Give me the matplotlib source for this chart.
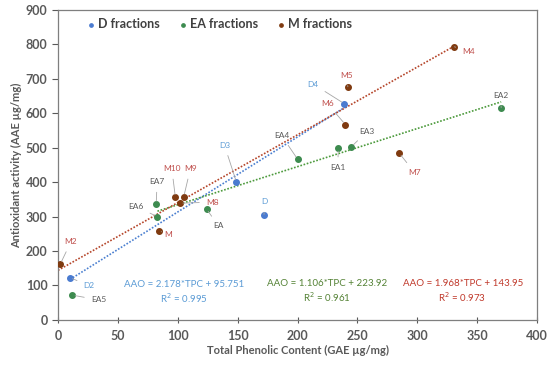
import matplotlib
matplotlib.use("Agg")
import matplotlib.pyplot as plt
import numpy as np

plt.rcParams['font.family'] = ['Lato', 'DejaVu Sans']

# data (TPC, AAO)
d_names = ["D2", "D", "D3", "D4"]
d_tpc = [10, 172, 149, 239]
d_aao = [123, 306, 400, 628]

ea_names = ["EA5", "EA6", "EA7", "EA", "EA4", "EA1", "EA3", "EA2"]
ea_tpc = [12, 83, 82, 124, 200, 234, 245, 370]
ea_aao = [72, 300, 337, 322, 467, 498, 503, 616]

m_names = ["M2", "M", "M8", "M10", "M9", "M6", "M5", "M7", "M4"]
m_tpc = [2, 84, 102, 98, 105, 240, 242, 285, 331]
m_aao = [163, 259, 339, 356, 358, 567, 677, 484, 793]

# label positions (data coords)
d_lab = [(26, 99), (172.5, 343), (139, 507), (213, 685)]
ea_lab = [(34, 58), (65, 329), (82.7, 401), (134, 273), (186.7, 535),
          (233.6, 443), (258, 547), (370, 652)]
m_lab = [(10.8, 227), (92, 249), (129, 342), (95, 439), (110.5, 439),
         (225, 628), (241, 711), (297.5, 429), (343, 780)]

# trend lines from the chart
fits = [(2.178, 95.751, 10, 240, '#4a7fd0'),
        (1.106, 223.92, 83, 370, '#4c9a3c'),
        (1.968, 143.95, 0, 331, '#b5452a')]

c_d, c_ea, c_m = '#4a7bd0', '#3d8b4f', '#7f3a10'
lab_d, lab_ea, lab_m = '#5b9bd5', '#595959', '#c0504d'
grey = '#595959'

fig = plt.figure(figsize=(5.5, 3.69), dpi=100)
ax = fig.add_axes([0.1055, 0.133, 0.871, 0.84])

for a, b, x0, x1, col in fits:
    xs = np.array([x0, x1])
    ax.plot(xs, a * xs + b, ls=(0, (1, 1)), color=col, lw=1.2, zorder=2)

ax.scatter(d_tpc, d_aao, s=16, color=c_d, zorder=3, label='D fractions')
ax.scatter(ea_tpc, ea_aao, s=16, color=c_ea, zorder=3, label='EA fractions')
ax.scatter(m_tpc, m_aao, s=16, color=c_m, zorder=3, label='M fractions')

def put_labels(names, xs, ys, pos, col):
    for n, x, y, (lx, ly) in zip(names, xs, ys, pos):
        ax.annotate(n, xy=(x, y), xytext=(lx, ly), ha='center', va='center',
                    fontsize=6, color=col,
                    arrowprops=dict(arrowstyle='-', color='#a6a6a6', lw=0.6,
                                    shrinkA=3, shrinkB=2))

put_labels(d_names, d_tpc, d_aao, d_lab, lab_d)
put_labels(ea_names, ea_tpc, ea_aao, ea_lab, lab_ea)
put_labels(m_names, m_tpc, m_aao, m_lab, lab_m)

ax.text(105, 104, "AAO = 2.178*TPC + 95.751", ha='center', va='center', fontsize=7, color='#5b9bd5')
ax.text(105, 62, "R$^2$ = 0.995", ha='center', va='center', fontsize=7, color='#5b9bd5')
ax.text(224.6, 107, "AAO = 1.106*TPC + 223.92", ha='center', va='center', fontsize=7, color='#548235')
ax.text(224.6, 65, "R$^2$ = 0.961", ha='center', va='center', fontsize=7, color='#548235')
ax.text(338, 107, "AAO = 1.968*TPC + 143.95", ha='center', va='center', fontsize=7, color='#c0392b')
ax.text(337.5, 65, "R$^2$ = 0.973", ha='center', va='center', fontsize=7, color='#c0392b')

ax.set_xlim(0, 400)
ax.set_ylim(0, 900)
ax.set_xticks(range(0, 401, 50))
ax.set_yticks(range(0, 901, 100))
ax.tick_params(axis='x', direction='inout', length=5, width=0.8, colors='#595959', labelsize=9, pad=5)
ax.tick_params(axis='y', direction='out', length=4, width=0.8, colors='#595959', labelsize=9)
for lab in ax.get_xticklabels() + ax.get_yticklabels():
    lab.set_fontweight('bold')
for s in ax.spines.values():
    s.set_color('#7f7f7f')
    s.set_linewidth(0.9)

ax.set_xlabel("Total Phenolic Content (GAE µg/mg)", fontsize=8, fontweight='bold', color=grey, labelpad=2)
ax.set_ylabel("Antioxidant activity (AAE µg/mg)", fontsize=8, fontweight='bold', color=grey, labelpad=3)

leg = ax.legend(loc='upper center', bbox_to_anchor=(0.335, 1.01), ncol=3, frameon=False,
                fontsize=9, markerscale=0.6, handletextpad=0.1, columnspacing=1.3,
                handlelength=1)
for t in leg.get_texts():
    t.set_color('#404040')
    t.set_fontweight('bold')

fig.savefig('out.png', dpi=100)
